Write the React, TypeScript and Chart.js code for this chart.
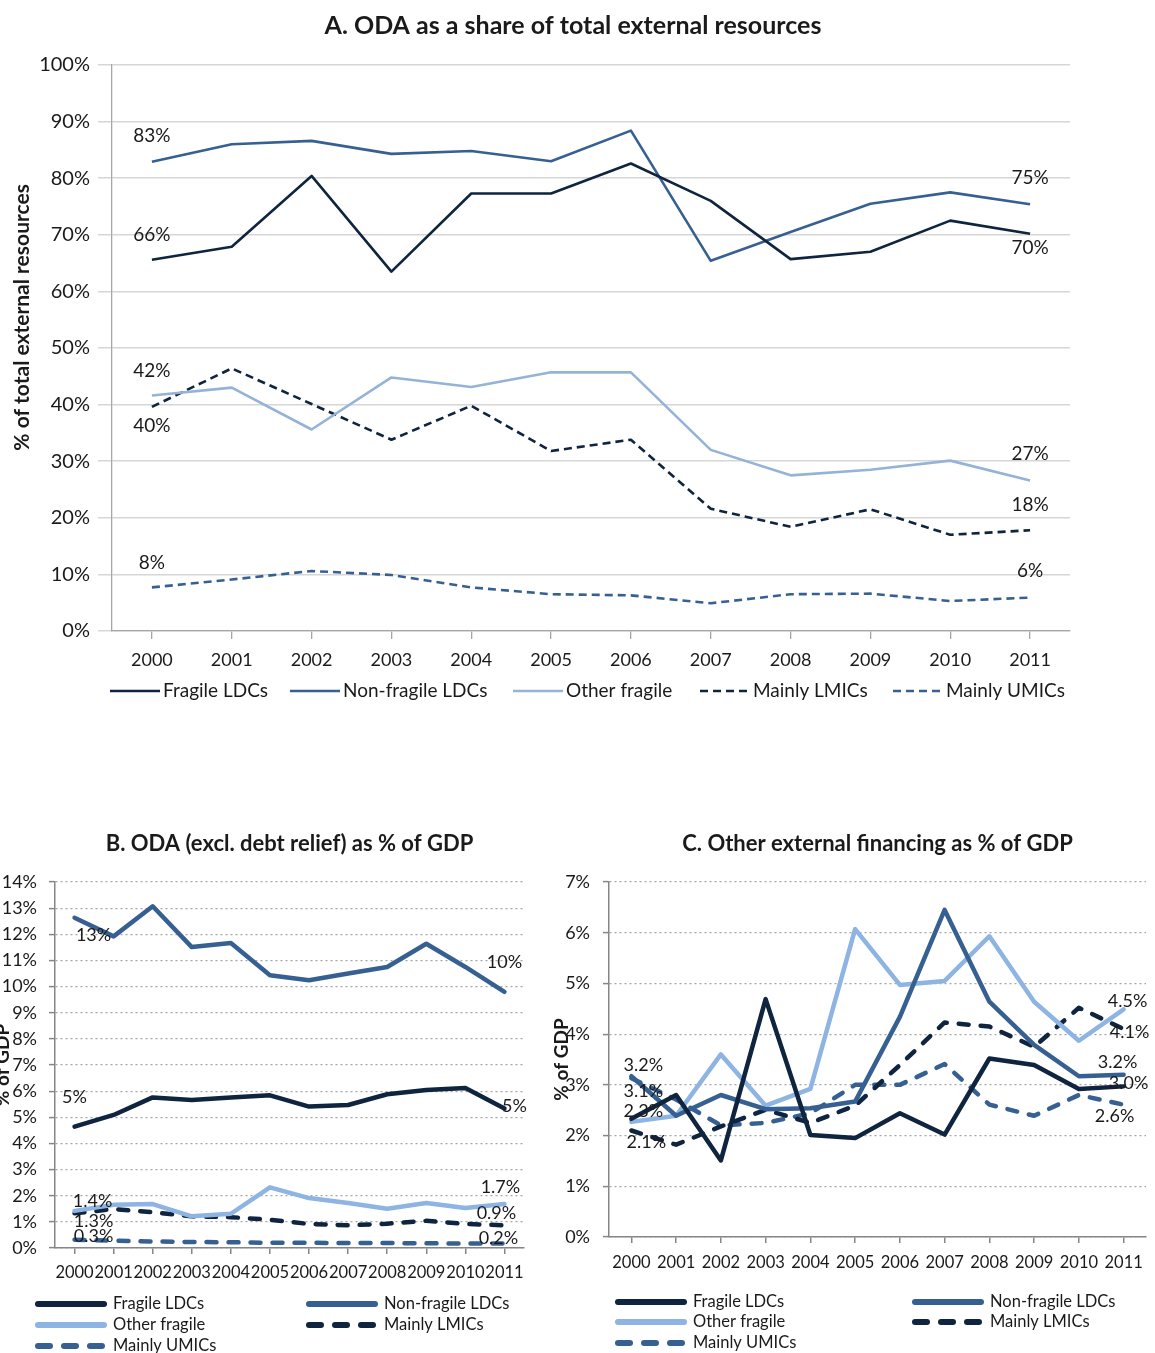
import React, { useEffect, useRef } from 'react';
import { Chart, registerables } from 'chart.js';

Chart.register(...registerables);

const FONT = 'Lato, "Noto Sans", sans-serif';
const TEXT = '#1a1a1a';
Chart.defaults.font.family = FONT;
Chart.defaults.color = TEXT;

// ---------- shared categories / series ----------
const YEARS = ['2000', '2001', '2002', '2003', '2004', '2005', '2006', '2007', '2008', '2009', '2010', '2011'];
const SERIES = ['Fragile LDCs', 'Non-fragile LDCs', 'Other fragile', 'Mainly LMICs', 'Mainly UMICs'];
const DASHED = [false, false, false, true, true];
const COLORS_A = ['#0F243E', '#376092', '#95B3D7', '#0F243E', '#376092'];
const COLORS_BC = ['#0F243E', '#376092', '#8DB4E2', '#0F243E', '#376092'];

// ---------- Panel A: ODA as % of total external resources ----------
const A_TITLE = 'A. ODA as a share of total external resources';
const A_Y_TITLE = '% of total external resources';
const A_FRAGILE_LDCS = [65.6, 67.9, 80.4, 63.5, 77.3, 77.3, 82.6, 76.0, 65.7, 67.0, 72.5, 70.2];
const A_NONFRAGILE_LDCS = [82.9, 86.0, 86.6, 84.3, 84.8, 83.0, 88.4, 65.4, 70.5, 75.5, 77.5, 75.4];
const A_OTHER_FRAGILE = [41.6, 43.0, 35.6, 44.8, 43.1, 45.7, 45.7, 32.0, 27.5, 28.5, 30.1, 26.6];
const A_MAINLY_LMICS = [39.6, 46.4, 40.1, 33.8, 39.8, 31.8, 33.8, 21.6, 18.4, 21.5, 17.0, 17.8];
const A_MAINLY_UMICS = [7.7, 9.1, 10.6, 9.9, 7.7, 6.5, 6.3, 4.9, 6.5, 6.6, 5.3, 5.9];

// ---------- Panel B: ODA (excl. debt relief) as % of GDP ----------
const B_TITLE = 'B. ODA (excl. debt relief) as % of GDP';
const B_FRAGILE_LDCS = [4.64, 5.09, 5.76, 5.66, 5.76, 5.84, 5.41, 5.47, 5.88, 6.04, 6.12, 5.34];
const B_NONFRAGILE_LDCS = [12.63, 11.92, 13.07, 11.51, 11.67, 10.43, 10.24, 10.5, 10.75, 11.64, 10.75, 9.8];
const B_OTHER_FRAGILE = [1.42, 1.65, 1.68, 1.21, 1.31, 2.32, 1.91, 1.72, 1.5, 1.72, 1.53, 1.68];
const B_MAINLY_LMICS = [1.33, 1.49, 1.37, 1.21, 1.18, 1.08, 0.92, 0.87, 0.93, 1.04, 0.92, 0.87];
const B_MAINLY_UMICS = [0.32, 0.28, 0.25, 0.23, 0.22, 0.2, 0.2, 0.19, 0.19, 0.18, 0.17, 0.17];

// ---------- Panel C: Other external financing as % of GDP ----------
const C_TITLE = 'C. Other external financing as % of GDP';
const C_FRAGILE_LDCS = [2.33, 2.8, 1.51, 4.69, 2.01, 1.95, 2.44, 2.02, 3.52, 3.39, 2.92, 2.97];
const C_NONFRAGILE_LDCS = [3.17, 2.39, 2.8, 2.52, 2.54, 2.67, 4.34, 6.45, 4.64, 3.79, 3.17, 3.2];
const C_OTHER_FRAGILE = [2.27, 2.39, 3.6, 2.59, 2.92, 6.07, 4.97, 5.05, 5.93, 4.64, 3.87, 4.49];
const C_MAINLY_LMICS = [2.1, 1.82, 2.18, 2.51, 2.25, 2.59, 3.39, 4.23, 4.15, 3.75, 4.52, 4.1];
const C_MAINLY_UMICS = [3.13, 2.71, 2.2, 2.25, 2.44, 3.0, 3.0, 3.41, 2.61, 2.39, 2.8, 2.61];

const GDP_Y_TITLE = '% of GDP';

// ---------- plugins ----------
const pointLabels = {
  id: 'pointLabels',
  afterDatasetsDraw(chart: any, _args: any, opts: any) {
    if (!opts || !opts.items) return;
    const ctx = chart.ctx;
    ctx.save();
    ctx.font = `${opts.size}px ${FONT}`;
    ctx.fillStyle = opts.color;
    ctx.textAlign = 'center';
    ctx.textBaseline = 'middle';
    const items = opts.items;
    for (let k = 0; k < items.length; k++) {
      const it = items[k];
      const el = chart.getDatasetMeta(it.ds).data[it.idx];
      const v = chart.data.datasets[it.ds].data[it.idx] as number;
      if (!el) continue;
      ctx.fillText(v.toFixed(it.dec) + '%', el.x + (it.dx || 0), el.y + (it.dy || 0));
    }
    ctx.restore();
  },
};

const gridLegend = {
  id: 'gridLegend',
  afterDraw(chart: any, _args: any, opts: any) {
    if (!opts || !opts.x) return;
    const ctx = chart.ctx;
    const xs = opts.x;
    const ys = opts.y;
    ctx.save();
    chart.data.datasets.forEach((d: any, i: number) => {
      const col = i % xs.length;
      const row = Math.floor(i / xs.length);
      const x = xs[col];
      const y = ys[row];
      const cap = opts.cap || 'butt';
      const inset = cap === 'round' ? opts.lineWidth / 2 : 0;
      ctx.strokeStyle = d.borderColor;
      ctx.lineWidth = opts.lineWidth;
      ctx.lineCap = cap;
      const dashed = d.borderDash && d.borderDash.length > 0;
      ctx.setLineDash(dashed ? (opts.dash ? opts.dash : d.borderDash) : []);
      ctx.beginPath();
      ctx.moveTo(x + inset, y);
      ctx.lineTo(x + opts.lineLength - inset, y);
      ctx.stroke();
      ctx.setLineDash([]);
      ctx.fillStyle = opts.color;
      ctx.font = `${opts.size}px ${FONT}`;
      ctx.textAlign = 'left';
      ctx.textBaseline = 'middle';
      ctx.fillText(d.label, x + opts.lineLength + opts.gap, y);
    });
    ctx.restore();
  },
};

function makeDatasets(values: number[][], colors: string[], width: number, dash: number[], cap: string) {
  return values.map((d, i) => ({
    label: SERIES[i],
    data: d,
    borderColor: colors[i],
    backgroundColor: colors[i],
    borderWidth: width,
    borderDash: DASHED[i] ? dash : [],
    borderCapStyle: cap,
    borderJoinStyle: 'round',
    pointRadius: 0,
    pointHoverRadius: 0,
    tension: 0,
    fill: false,
  }));
}

function configA(): any {
  return {
    type: 'line',
    data: {
      labels: YEARS,
      datasets: makeDatasets(
        [A_FRAGILE_LDCS, A_NONFRAGILE_LDCS, A_OTHER_FRAGILE, A_MAINLY_LMICS, A_MAINLY_UMICS],
        COLORS_A, 2.6, [8, 5], 'butt'
      ),
    },
    options: {
      responsive: false,
      animation: false,
      events: [],
      layout: { padding: { left: 0, right: 9, top: 0, bottom: 48 } },
      plugins: {
        legend: { display: false },
        tooltip: { enabled: false },
        title: {
          display: true,
          text: A_TITLE,
          color: TEXT,
          font: { size: 25, weight: 'bold', family: FONT },
          padding: { top: 11, bottom: 24 },
        },
        pointLabels: {
          size: 19,
          color: TEXT,
          items: [
            { ds: 1, idx: 0, dec: 0, dy: -26 },
            { ds: 0, idx: 0, dec: 0, dy: -25 },
            { ds: 2, idx: 0, dec: 0, dy: -25 },
            { ds: 3, idx: 0, dec: 0, dy: 19 },
            { ds: 4, idx: 0, dec: 0, dy: -25 },
            { ds: 1, idx: 11, dec: 0, dy: -26 },
            { ds: 0, idx: 11, dec: 0, dy: 14 },
            { ds: 2, idx: 11, dec: 0, dy: -27 },
            { ds: 3, idx: 11, dec: 0, dy: -25 },
            { ds: 4, idx: 11, dec: 0, dy: -27 },
          ],
        },
        gridLegend: {
          x: [110, 290, 513, 700, 893],
          y: [691],
          lineLength: 50,
          gap: 3,
          lineWidth: 2.6,
          cap: 'butt',
          size: 19,
          color: TEXT,
        },
      },
      scales: {
        x: {
          type: 'category',
          offset: true,
          grid: { display: true, drawOnChartArea: false, drawTicks: true, tickLength: 8, color: '#A6A6A6', tickColor: '#A6A6A6', lineWidth: 1.3 },
          border: { display: true, color: '#A6A6A6', width: 1.3 },
          ticks: { font: { size: 18 }, color: TEXT, padding: 10, autoSkip: false, maxRotation: 0, minRotation: 0 },
          afterFit: (s: any) => { s.height = 41; },
        },
        y: {
          min: 0,
          max: 100,
          ticks: { stepSize: 10, font: { size: 20 }, color: TEXT, padding: 8, callback: (v: any) => v + '%' },
          grid: { color: '#D6D6D6', lineWidth: 1.5, drawTicks: true, tickLength: 14, tickColor: '#D6D6D6' },
          border: { display: true, color: '#A6A6A6', width: 1.3 },
          title: {
            display: true,
            text: '            ' + A_Y_TITLE,
            color: TEXT,
            font: { size: 21, weight: 'bold', family: FONT },
            padding: { top: 10, bottom: 0 },
          },
          afterFit: (s: any) => { s.width = 112; },
        },
        yRight: {
          position: 'right',
          display: true,
          ticks: { display: false },
          grid: { display: false },
          border: { display: false },
          afterFit: (s: any) => { s.width = 76; },
        },
      },
    },
    plugins: [pointLabels, gridLegend],
  };
}

function configGDP(opts: {
  title: string; values: number[][]; max: number; yWidth: number; yTickPad: number; xTickPad: number;
  padRight: number; padBottom: number; labels: any[]; legendX: number[]; legendY: number[];
}): any {
  return {
    type: 'line',
    data: {
      labels: YEARS,
      datasets: makeDatasets(opts.values, COLORS_BC, 4.5, [10, 12], 'round'),
    },
    options: {
      responsive: false,
      animation: false,
      events: [],
      layout: { padding: { left: 0, right: opts.padRight, top: 0, bottom: opts.padBottom } },
      plugins: {
        legend: { display: false },
        tooltip: { enabled: false },
        title: {
          display: true,
          fullSize: false,
          text: opts.title,
          color: TEXT,
          font: { size: 22, weight: 'bold', family: FONT },
          padding: { top: 31, bottom: 24.6 },
        },
        pointLabels: { size: 18, color: TEXT, items: opts.labels },
        gridLegend: {
          x: opts.legendX,
          y: opts.legendY,
          lineLength: 72,
          gap: 6,
          lineWidth: 6,
          cap: 'round',
          dash: [12, 14],
          size: 16.5,
          color: TEXT,
        },
      },
      scales: {
        x: {
          type: 'category',
          offset: true,
          grid: { display: true, drawOnChartArea: false, drawTicks: true, tickLength: 6, color: '#868686', tickColor: '#868686', lineWidth: 1.5 },
          border: { display: true, color: '#868686', width: 1.5 },
          ticks: { font: { size: 16.5 }, color: TEXT, padding: opts.xTickPad, autoSkip: false, maxRotation: 0, minRotation: 0 },
          afterFit: (s: any) => { s.height = 40; },
        },
        y: {
          min: 0,
          max: opts.max,
          ticks: { stepSize: 1, font: { size: 18 }, color: TEXT, padding: opts.yTickPad, callback: (v: any) => v + '%' },
          grid: { color: '#A6A6A6', lineWidth: 1.2, drawTicks: true, tickLength: 6, tickColor: '#868686', tickWidth: 1.5, tickBorderDash: [] },
          border: { display: true, color: '#868686', width: 1.5, dash: [2, 3] },
          title: { display: true, text: GDP_Y_TITLE, color: TEXT, font: { size: 19, weight: 'bold', family: FONT }, padding: { top: 0, bottom: 0 } },
          afterFit: (s: any) => { s.width = opts.yWidth; },
        },
      },
    },
    plugins: [pointLabels, gridLegend],
  };
}

export default function App() {
  const refA = useRef<HTMLCanvasElement>(null);
  const refB = useRef<HTMLCanvasElement>(null);
  const refC = useRef<HTMLCanvasElement>(null);

  useEffect(() => {
    const charts: Chart[] = [];
    charts.push(new Chart(refA.current!, configA()));
    charts.push(new Chart(refB.current!, configGDP({
      title: B_TITLE,
      values: [B_FRAGILE_LDCS, B_NONFRAGILE_LDCS, B_OTHER_FRAGILE, B_MAINLY_LMICS, B_MAINLY_UMICS],
      max: 14,
      yWidth: 64,
      yTickPad: 12,
      xTickPad: 9,
      padRight: 21,
      padBottom: 65,
      labels: [
        { ds: 1, idx: 0, dec: 0, dx: 19, dy: 17 },
        { ds: 0, idx: 0, dec: 0, dx: 0, dy: -30 },
        { ds: 2, idx: 0, dec: 1, dx: 18, dy: -10 },
        { ds: 3, idx: 0, dec: 1, dx: 19, dy: 8 },
        { ds: 4, idx: 0, dec: 1, dx: 19, dy: -3 },
        { ds: 1, idx: 11, dec: 0, dx: 0, dy: -30 },
        { ds: 0, idx: 11, dec: 0, dx: 10, dy: -2 },
        { ds: 2, idx: 11, dec: 1, dx: -4, dy: -17 },
        { ds: 3, idx: 11, dec: 1, dx: -8, dy: -12 },
        { ds: 4, idx: 11, dec: 1, dx: -6, dy: -5 },
      ],
      legendX: [44, 315],
      legendY: [504, 525, 546],
    })));
    charts.push(new Chart(refC.current!, configGDP({
      title: C_TITLE,
      values: [C_FRAGILE_LDCS, C_NONFRAGILE_LDCS, C_OTHER_FRAGILE, C_MAINLY_LMICS, C_MAINLY_UMICS],
      max: 7,
      yWidth: 59,
      yTickPad: 13,
      xTickPad: 10,
      padRight: 9,
      padBottom: 76,
      labels: [
        { ds: 1, idx: 0, dec: 1, dx: 12, dy: -11 },
        { ds: 4, idx: 0, dec: 1, dx: 12, dy: 13 },
        { ds: 2, idx: 0, dec: 1, dx: 12, dy: -11 },
        { ds: 3, idx: 0, dec: 1, dx: 15, dy: 12 },
        { ds: 2, idx: 11, dec: 1, dx: 4, dy: -8 },
        { ds: 3, idx: 11, dec: 1, dx: 6, dy: 3 },
        { ds: 1, idx: 11, dec: 1, dx: -6, dy: -13 },
        { ds: 0, idx: 11, dec: 1, dx: 5, dy: -3 },
        { ds: 4, idx: 11, dec: 1, dx: -9, dy: 12 },
      ],
      legendX: [65, 362],
      legendY: [502, 522, 543],
    })));
    return () => charts.forEach((c) => c.destroy());
  }, []);

  return (
    <div style={{ position: 'absolute', left: 0, top: 0, width: 1155, height: 1353, background: '#fff', overflow: 'hidden' }}>
      <canvas ref={refA} width={1155} height={720} style={{ position: 'absolute', left: 0, top: 0, width: 1155, height: 720 }} />
      <canvas ref={refB} width={554} height={553} style={{ position: 'absolute', left: -9, top: 800, width: 554, height: 553 }} />
      <canvas ref={refC} width={605} height={553} style={{ position: 'absolute', left: 550, top: 800, width: 605, height: 553 }} />
    </div>
  );
}
